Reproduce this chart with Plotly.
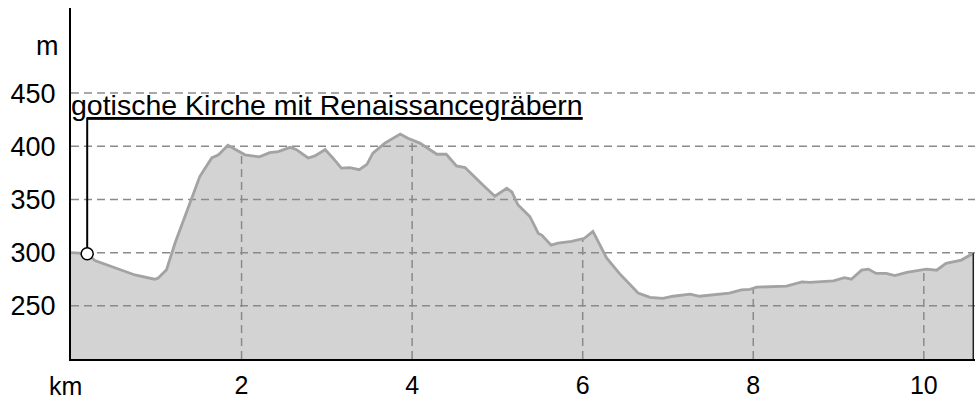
import numpy as np
import plotly.graph_objects as go

# Elevation profile (km, m)
km = [0.0, 0.19, 0.28, 0.51, 0.75, 0.98, 1.02, 1.12, 1.22, 1.41, 1.51, 1.65, 1.73, 1.84, 1.93,
      2.04, 2.21, 2.33, 2.43, 2.57, 2.64, 2.78, 2.86, 2.98, 3.07, 3.17, 3.27, 3.38, 3.47, 3.54,
      3.68, 3.86, 3.95, 4.09, 4.29, 4.40, 4.52, 4.62, 4.83, 4.97, 5.11, 5.17, 5.24, 5.38, 5.48,
      5.52, 5.63, 5.71, 5.87, 6.02, 6.12, 6.28, 6.43, 6.65, 6.79, 6.94, 7.06, 7.26, 7.37, 7.72,
      7.86, 7.96, 8.04, 8.39, 8.57, 8.66, 8.94, 9.07, 9.15, 9.27, 9.35, 9.44, 9.56, 9.66, 9.80,
      10.03, 10.15, 10.26, 10.44, 10.58]
elev = [300, 299, 292.5, 286, 279, 275, 276, 284, 309, 350, 371.5, 389, 392, 401, 397,
        392, 390, 394, 395, 399, 397, 389, 391, 397, 389, 379.5, 380, 378, 383, 393.5,
        403, 411.5, 407.5, 403, 392.5, 392.5, 381.5, 380, 363.5, 353, 360.5, 357, 345, 334, 318,
        316.5, 307, 309, 310.5, 313.5, 320, 295, 280.5, 262, 258, 257, 259, 261, 259, 262,
        265, 265.5, 267.5, 268.5, 272.5, 272, 273.5, 276.5, 275, 283.5, 284.5, 280.5, 280.5, 278.5, 281.5,
        284.5, 283.5, 290, 293, 299.5]

x_ticks = [2, 4, 6, 8, 10]
x_ticklabels = ["2", "4", "6", "8", "10"]
y_ticks = [250, 300, 350, 400, 450]
y_ticklabels = ["250", "300", "350", "400", "450"]
x_unit = "km"
y_unit = "m"
y_unit_pos = 494

poi_km = 0.19
poi_elev = 299
poi_label_elev = 427
poi_text = "gotische Kirche mit Renaissancegräbern"

x_range = [0, 10.6]
y_range = [200, 530]

FONT = "Liberation Sans, Arial, sans-serif"
FS = 27
FSX = 25
GRID = "#8a8a8a"
DASH = "8px,5px"

fig = go.Figure()

# filled area
fig.add_trace(go.Scatter(x=km, y=elev, mode="lines", fill="tozeroy",
                         fillcolor="#d3d3d3", line=dict(width=0, color="#d3d3d3"),
                         hoverinfo="skip", showlegend=False))

# horizontal grid lines
hx, hy = [], []
for g in y_ticks:
    hx += [x_range[0], x_range[1], None]
    hy += [g, g, None]
fig.add_trace(go.Scatter(x=hx, y=hy, mode="lines",
                         line=dict(color=GRID, width=1.5, dash=DASH),
                         hoverinfo="skip", showlegend=False))

# vertical grid lines (only under the profile)
vx, vy = [], []
for t in x_ticks:
    top = float(np.interp(t, km, elev))
    vx += [t, t, None]
    vy += [y_range[0], top, None]
fig.add_trace(go.Scatter(x=vx, y=vy, mode="lines",
                         line=dict(color=GRID, width=1.5, dash=DASH),
                         hoverinfo="skip", showlegend=False))

# profile line
fig.add_trace(go.Scatter(x=km, y=elev, mode="lines",
                         line=dict(color="#a3a3a3", width=2.8),
                         hoverinfo="skip", showlegend=False))

# right edge of the area
fig.add_trace(go.Scatter(x=[km[-1], km[-1]], y=[y_range[0], elev[-1]], mode="lines",
                         line=dict(color="#222222", width=1.5),
                         hoverinfo="skip", showlegend=False))

# point of interest pin
fig.add_trace(go.Scatter(x=[poi_km, poi_km], y=[poi_elev, poi_label_elev], mode="lines",
                         line=dict(color="black", width=2),
                         hoverinfo="skip", showlegend=False))
fig.add_trace(go.Scatter(x=[poi_km], y=[poi_elev], mode="markers",
                         marker=dict(size=12, color="white", line=dict(color="black", width=1.5)),
                         hoverinfo="skip", showlegend=False))

fig.add_annotation(x=0, y=poi_label_elev, xref="x", yref="y", xanchor="left", yanchor="bottom",
                   text="<u>" + poi_text + "</u>", showarrow=False, xshift=-2, yshift=-5,
                   font=dict(family=FONT, size=28.5, color="black"))

fig.add_annotation(x=0, y=0, xref="x", yref="paper", xanchor="center", yanchor="middle",
                   text=x_unit, showarrow=False, xshift=-6, yshift=-27,
                   font=dict(family=FONT, size=FSX, color="black"))

fig.add_annotation(x=0, y=y_unit_pos, xref="paper", yref="y", xanchor="right", yanchor="middle",
                   text=y_unit, showarrow=False, xshift=-10,
                   font=dict(family=FONT, size=FS, color="black"))

fig.update_layout(
    width=979, height=401,
    margin=dict(l=71, r=4, t=8, b=42, autoexpand=False),
    paper_bgcolor="white", plot_bgcolor="white",
    font=dict(family=FONT, size=FS, color="black"),
    xaxis=dict(range=x_range, tickvals=x_ticks, ticktext=x_ticklabels, showgrid=False,
               zeroline=False, showline=True, linecolor="black", linewidth=2, automargin=False,
               ticks="outside", ticklen=3, tickcolor="rgba(0,0,0,0)",
               tickfont=dict(family=FONT, size=FSX, color="black")),
    yaxis=dict(range=y_range, tickvals=y_ticks, ticktext=y_ticklabels, showgrid=False,
               zeroline=False, showline=True, linecolor="black", linewidth=2, automargin=False,
               ticks="outside", ticklen=8, tickcolor="rgba(0,0,0,0)"),
)

fig.write_html("out.html", config={"displayModeBar": False},
               post_script="document.body.style.margin='0';document.body.style.overflow='hidden';")
